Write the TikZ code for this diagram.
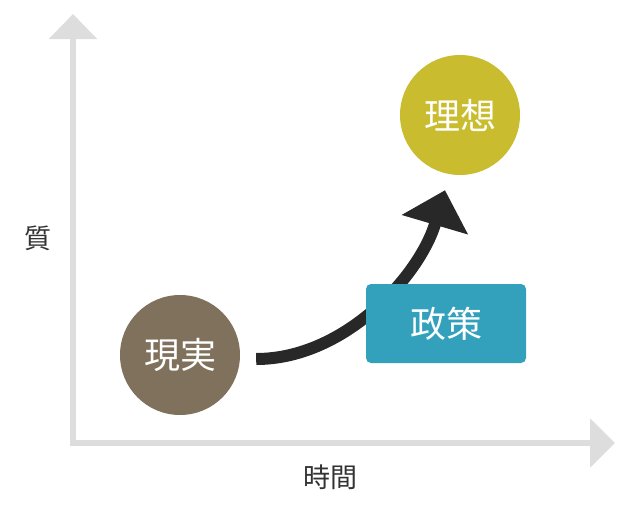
\documentclass[tikz,border=0pt]{standalone}
\usepackage{fontspec}
\newfontfamily\cjk{Noto Sans CJK JP}
\usetikzlibrary{arrows.meta,calc}
\definecolor{axisgray}{HTML}{DDDDDD}
\definecolor{realbrown}{HTML}{80715C}
\definecolor{idealyellow}{HTML}{C9BC2E}
\definecolor{policyblue}{HTML}{33A1BB}
\definecolor{arrowblack}{HTML}{282828}
\definecolor{labelgray}{HTML}{333333}
\tikzset{
  axisline/.style={draw=axisgray, line width=6pt, line join=miter},
  bigcircle/.style={circle, minimum size=120pt, inner sep=0pt, text=white, font=\cjk\fontsize{36}{36}\selectfont},
  policybox/.style={rectangle, rounded corners=5pt, minimum width=160pt, minimum height=79pt, inner sep=0pt, fill=policyblue, text=white, font=\cjk\fontsize{36}{36}\selectfont},
  axislabel/.style={text=labelgray, inner sep=0pt, font=\cjk\fontsize{27}{27}\selectfont},
  trend/.style={draw=arrowblack, line width=12pt, -{Triangle[width=67pt,length=36pt]}, arrowblack}
}
\begin{document}
\begin{tikzpicture}[x=1pt,y=-1pt]
\useasboundingbox (0,0) rectangle (624,506);
% axes
\coordinate (origin) at (73,443);
\coordinate (ytip) at (73,14);
\coordinate (xtip) at (615,443);
\draw[axisline, {Triangle[width=47pt,length=25pt]}-{Triangle[width=48pt,length=25pt]}] (ytip) -- (origin) -- (xtip);
\node[axislabel] (ylab) at (38,238) {質};
\node[axislabel] (xlab) at (330,477) {時間};
% circles
\node[bigcircle, fill=realbrown] (real) at (180,355) {現実};
\node[bigcircle, fill=idealyellow] (ideal) at (460,115) {理想};
% trend arrow
\coordinate (tstart) at ($(real.east)+(16,4)$);
\coordinate (tend) at ($(ideal.south)+(-15,15)$);
\draw[trend] (tstart) .. controls ($(tstart)+(89,0)$) and ($(tend)+(-25,85)$) .. (tend);
% policy box
\node[policybox] (policy) at (446,323.5) {政策};
\end{tikzpicture}
\end{document}
